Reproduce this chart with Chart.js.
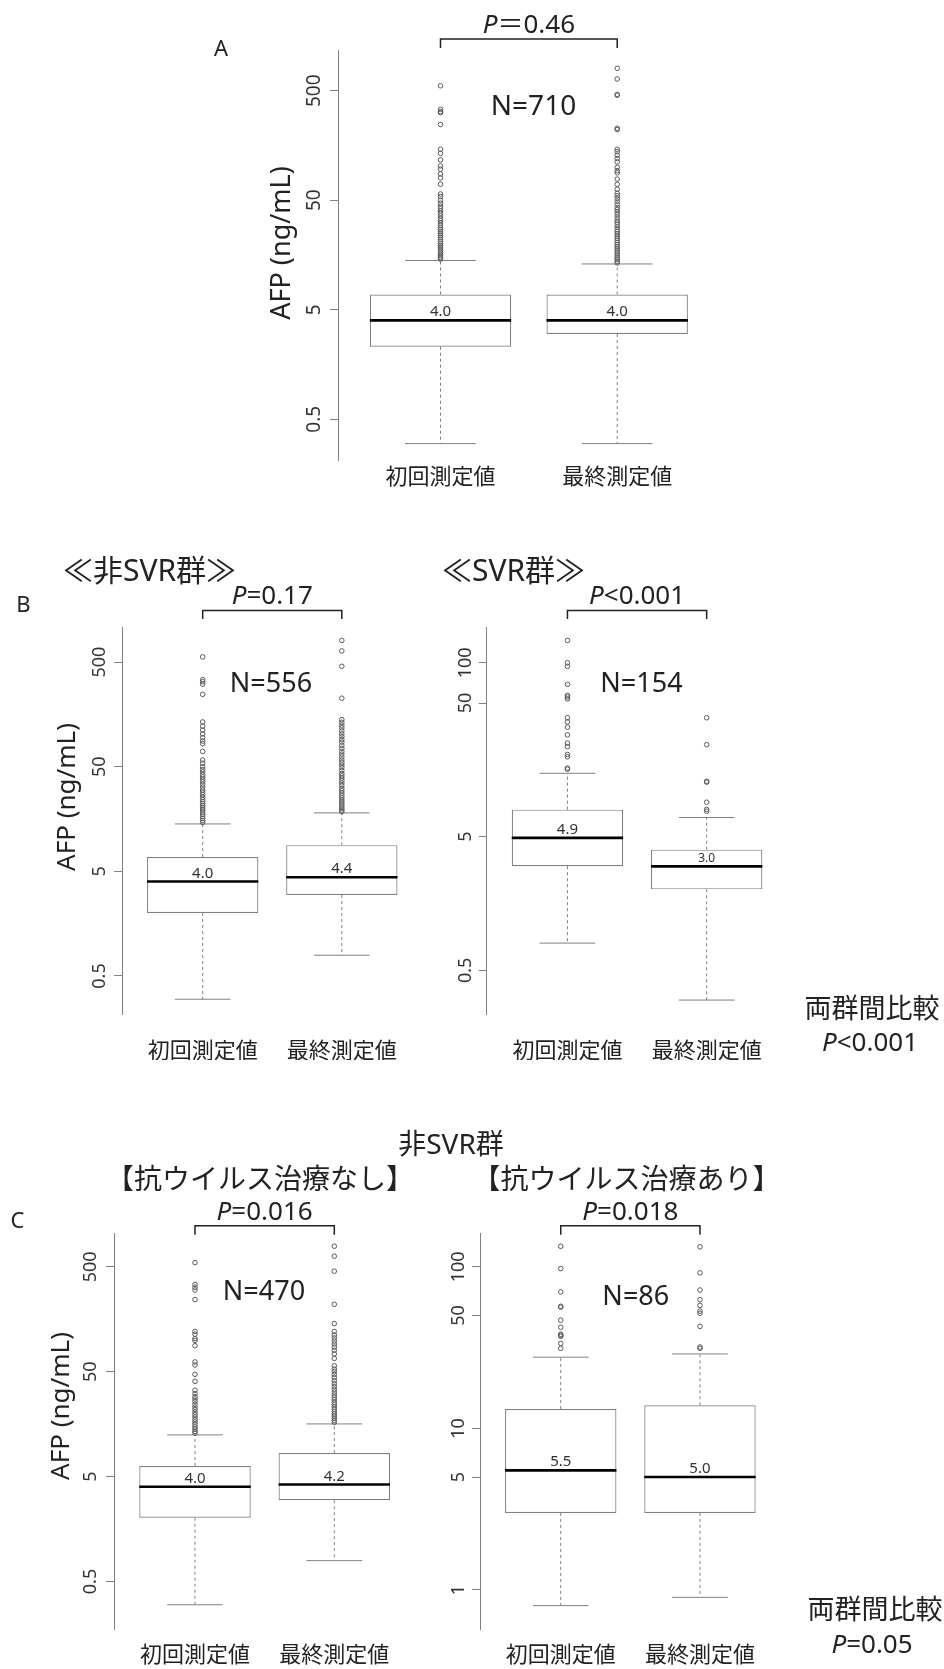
<!DOCTYPE html>
<html lang="ja">
<head>
<meta charset="utf-8">
<title>AFP box plots</title>
<script src="https://cdn.jsdelivr.net/npm/chart.js@4.4.0/dist/chart.umd.min.js"></script>
<style>
  body { margin: 0; background: #fff; }
  #page { position: relative; width: 944px; height: 1669px; }
  .panel { position: absolute; }
  .head { position: absolute; font-family: 'Noto Sans', 'Noto Sans CJK JP', sans-serif; color: #222;
          white-space: nowrap; transform: translate(-50%, -50%); line-height: 1; }
</style>
</head>
<body>
<div id="page">
  <div class="panel" id="pA" style="left:0;top:0;width:944px;height:520px"><canvas></canvas></div>
  <div class="panel" id="pB1" style="left:0;top:520px;width:430px;height:540px"><canvas></canvas></div>
  <div class="panel" id="pB2" style="left:430px;top:520px;width:514px;height:540px"><canvas></canvas></div>
  <div class="panel" id="pC1" style="left:0;top:1100px;width:430px;height:569px"><canvas></canvas></div>
  <div class="panel" id="pC2" style="left:430px;top:1100px;width:514px;height:569px"><canvas></canvas></div>
  <div class="head" style="left:451px;top:1143px;font-size:28px">非SVR群</div>
</div>
<script>
const FONT = "'Noto Sans', 'Noto Sans CJK JP', sans-serif"

const categories = ['初回測定値', '最終測定値']

// A: all patients (N=710)
const aQ1 = [2.3, 3.0]
const aMedian = [4.0, 4.0]
const aQ3 = [6.9, 6.9]
const aLow = [0.3, 0.3]
const aHigh = [14.1, 13.1]
const aMedianText = ['4.0', '4.0']
const aTicks = [0.5, 5, 50, 500]
const aOutFirst = [555, 338, 322, 316, 246, 146, 134, 117, 103, 96, 87, 80, 70, 57, 54, 50, 47, 44, 42, 40, 38, 36, 34, 32.5, 31, 29.5, 28, 27, 26, 25, 24, 23, 22, 21, 20.2, 19.4, 18.7, 18, 17.3, 16.7, 16.1, 15.5, 15, 14.5]
const aOutLast = [801, 640, 462, 455, 227, 221, 146, 139, 129, 120, 112, 100, 93, 89, 78, 70, 63, 58, 55, 52, 49, 46, 43, 41, 39, 37, 35, 33, 31.5, 30, 28.5, 27, 25.8, 24.6, 23.5, 22.5, 21.5, 20.5, 19.6, 18.8, 18, 17.2, 16.5, 15.8, 15.1, 14.5, 13.9, 13.4]

// B left: non-SVR (N=556)
const b1Q1 = [2.0, 2.97]
const b1Median = [4.0, 4.4]
const b1Q3 = [6.85, 8.9]
const b1Low = [0.3, 0.79]
const b1High = [14.2, 18.1]
const b1MedianText = ['4.0', '4.4']
const b1Ticks = [0.5, 5, 50, 500]
const b1OutFirst = [561, 340, 325, 308, 246, 134, 122, 112, 103, 95, 88, 83, 70, 58, 54, 50, 47, 44.6, 42, 40, 38, 36, 34, 32, 30, 28.5, 27, 25.5, 24.3, 23.2, 22.2, 21.2, 20.2, 19.3, 18.4, 17.6, 16.8, 16, 15.3, 14.7]
const b1OutLast = [806, 640, 456, 226, 141, 133, 125, 118, 110, 103, 97, 91, 86, 80, 75, 70, 66, 62, 58, 55, 52, 49, 46, 43, 41, 39, 37, 35, 33, 31, 29.5, 28, 26.5, 25.2, 24, 23, 22, 21, 20.1, 19.3, 18.6]

// B right: SVR (N=154)
const b2Q1 = [3.01, 2.02]
const b2Median = [4.9, 3.0]
const b2Q3 = [7.97, 4.0]
const b2Low = [0.8, 0.3]
const b2High = [14.9, 6.96]
const b2MedianText = ['4.9', '3.0']
const b2Ticks = [0.5, 5, 50, 100]
const b2OutFirst = [147, 100, 94, 69, 57, 55.5, 53.7, 38.8, 36.1, 33, 28.9, 25.1, 23.6, 20.6, 19.8, 16.3, 16.0]
const b2OutLast = [38.8, 24.4, 13.0, 12.8, 9.05, 8.0, 7.75]

// C left: non-SVR without antiviral therapy (N=470)
const c1Q1 = [2.03, 2.98]
const c1Median = [4.0, 4.2]
const c1Q3 = [6.3, 8.4]
const c1Low = [0.3, 0.79]
const c1High = [12.5, 15.9]
const c1MedianText = ['4.0', '4.2']
const c1Ticks = [0.5, 5, 50, 500]
const c1OutFirst = [549, 340, 320, 301, 244, 121, 114, 103.5, 99.4, 88.5, 62, 58, 47.3, 40.5, 33.3, 31, 29, 27.5, 26, 24.5, 23, 21.8, 20.6, 19.5, 18.5, 17.5, 16.6, 15.7, 14.9, 14.2, 13.5, 13]
const c1OutLast = [787, 632, 455, 220, 144, 121, 112, 105, 98, 92, 86, 80, 74, 67, 57, 53, 50, 47, 44, 41, 38.5, 36, 34, 32, 30, 28.5, 27, 25.5, 24.2, 23, 21.9, 20.8, 19.8, 18.9, 18, 17.2, 16.5]

// C right: non-SVR with antiviral therapy (N=86)
const c2Q1 = [3.0, 3.0]
const c2Median = [5.5, 5.0]
const c2Q3 = [13.2, 13.9]
const c2Low = [0.8, 0.9]
const c2High = [27.6, 28.9]
const c2MedianText = ['5.5', '5.0']
const c2Ticks = [1, 5, 10, 50, 100]
const c2OutFirst = [134, 97.6, 70, 57, 56.3, 46.8, 42.3, 38.3, 37.7, 37.2, 33.6, 31.3]
const c2OutLast = [133, 91.8, 71.9, 62.6, 57.7, 53.2, 51.6, 42.8, 31.9, 31.3]

Chart.defaults.font.family = FONT
Chart.defaults.animation = false

function drawRich(ctx, parts, cx, cy, size, baseline) {
  const fonts = parts.map(pt => (pt.italic ? 'italic ' : '') + size + 'px ' + FONT)
  let total = 0
  const widths = parts.map((pt, i) => {
    ctx.font = fonts[i]
    const w = ctx.measureText(pt.t).width
    total += w
    return w
  })
  let x = cx - total / 2
  ctx.textAlign = 'left'
  ctx.textBaseline = baseline || 'alphabetic'
  parts.forEach((pt, i) => {
    ctx.font = fonts[i]
    ctx.fillText(pt.t, x, cy)
    x += widths[i]
  })
}

function line(ctx, x1, y1, x2, y2) {
  ctx.beginPath()
  ctx.moveTo(x1, y1)
  ctx.lineTo(x2, y2)
  ctx.stroke()
}

function makePanel(p) {
  const [L, T, W, H] = p.rect
  const canvas = document.querySelector('#' + p.id + ' canvas')

  const decor = {
    id: 'decor',
    beforeDatasetsDraw(chart) {
      const ctx = chart.ctx, x = chart.scales.x, y = chart.scales.y
      const half = (x.getPixelForValue(2) - x.getPixelForValue(1)) * 0.8 / 2
      ctx.save()
      ctx.strokeStyle = '#808080'
      ctx.lineWidth = 1
      p.median.forEach((m, i) => {
        const cx = x.getPixelForValue(i + 1)
        const yHi = y.getPixelForValue(p.high[i]), yLo = y.getPixelForValue(p.low[i])
        ctx.setLineDash([3, 3])
        line(ctx, cx, y.getPixelForValue(p.q3[i]), cx, yHi)
        line(ctx, cx, y.getPixelForValue(p.q1[i]), cx, yLo)
        ctx.setLineDash([])
        line(ctx, cx - half / 2, yHi, cx + half / 2, yHi)
        line(ctx, cx - half / 2, yLo, cx + half / 2, yLo)
      })
      ctx.restore()
    },
    afterDatasetsDraw(chart) {
      const ctx = chart.ctx, x = chart.scales.x, y = chart.scales.y
      const half = (x.getPixelForValue(2) - x.getPixelForValue(1)) * 0.8 / 2
      ctx.save()
      p.median.forEach((m, i) => {
        const cx = x.getPixelForValue(i + 1), ym = y.getPixelForValue(m)
        ctx.strokeStyle = '#000'
        ctx.lineWidth = 2.6
        line(ctx, cx - half, ym, cx + half, ym)
        ctx.fillStyle = '#333'
        drawRich(ctx, [{ t: p.medianText[i] }], cx, ym - 4, p.medianSize[i], 'alphabetic')
      })
      ctx.restore()
    },
    afterDraw(chart) {
      const ctx = chart.ctx, x = chart.scales.x, y = chart.scales.y
      const area = chart.chartArea
      ctx.save()
      // rotated y tick labels
      ctx.fillStyle = '#333'
      ctx.font = p.tickSize + 'px ' + FONT
      ctx.textAlign = 'center'
      ctx.textBaseline = 'middle'
      p.ticks.forEach(v => {
        ctx.save()
        ctx.translate(area.left - p.tickOffset, y.getPixelForValue(v))
        ctx.rotate(-Math.PI / 2)
        ctx.fillText(String(v), 0, 0)
        ctx.restore()
      })
      // y title
      if (p.yTitle) {
        ctx.fillStyle = '#222'
        ctx.font = p.yTitle.size + 'px ' + FONT
        ctx.save()
        ctx.translate(p.yTitle.x - L, p.yTitle.y - T)
        ctx.rotate(-Math.PI / 2)
        ctx.fillText('AFP (ng/mL)', 0, 0)
        ctx.restore()
      }
      // bracket with P value
      const x1 = x.getPixelForValue(1), x2 = x.getPixelForValue(2), by = p.bracketY - T
      ctx.strokeStyle = '#222'
      ctx.lineWidth = 1.5
      ctx.beginPath()
      ctx.moveTo(x1, by + p.bracketLeg)
      ctx.lineTo(x1, by)
      ctx.lineTo(x2, by)
      ctx.lineTo(x2, by + p.bracketLeg)
      ctx.stroke()
      ctx.fillStyle = '#222'
      drawRich(ctx, p.pText, (x1 + x2) / 2, p.pBaseline - T, 26, 'alphabetic')
      drawRich(ctx, [{ t: p.nText }], p.nX - L, p.nBaseline - T, p.nSize, 'alphabetic')
      p.extra.forEach(e => drawRich(ctx, e.parts, e.x - L, e.y - T, e.size, e.baseline))
      ctx.restore()
    }
  }

  const outliers = p.outFirst.map(v => ({ x: 1, y: v })).concat(p.outLast.map(v => ({ x: 2, y: v })))

  return new Chart(canvas, {
    type: 'bar',
    data: {
      datasets: [
        {
          type: 'bar',
          data: p.q1.map((q, i) => ({ x: i + 1, y: [q, p.q3[i]] })),
          backgroundColor: '#fff',
          borderColor: '#808080',
          borderWidth: 1.2,
          borderSkipped: false,
          barPercentage: 1,
          categoryPercentage: 0.8
        },
        {
          type: 'line',
          data: outliers,
          showLine: false,
          pointRadius: 2.3,
          pointBorderWidth: 1,
          pointBorderColor: '#5a5a5a',
          pointBackgroundColor: 'rgba(0,0,0,0)'
        }
      ]
    },
    options: {
      responsive: true,
      maintainAspectRatio: false,
      layout: {
        padding: { left: 0, top: p.area.top - T, right: L + W - p.area.right, bottom: 0 }
      },
      plugins: { legend: { display: false }, tooltip: { enabled: false } },
      scales: {
        x: {
          type: 'linear',
          min: 0.42,
          max: 2.58,
          offset: false,
          afterBuildTicks: s => { s.ticks = [{ value: 1 }, { value: 2 }] },
          afterFit: s => { s.height = T + H - p.area.bottom },
          ticks: {
            callback: v => categories[v - 1],
            font: { size: 22 },
            color: '#222',
            padding: p.labelPad,
            maxRotation: 0,
            autoSkip: false
          },
          grid: { display: false, drawTicks: false, offset: false },
          border: { display: false }
        },
        y: {
          type: 'logarithmic',
          min: p.yMin,
          max: p.yMax,
          afterBuildTicks: s => { s.ticks = p.ticks.map(v => ({ value: v })) },
          afterFit: s => { s.width = p.area.left - L },
          ticks: { display: false },
          grid: { drawOnChartArea: false, drawTicks: true, tickLength: 8, color: '#808080' },
          border: { display: true, color: '#808080', width: 1 }
        }
      }
    },
    plugins: [decor]
  })
}

makePanel({
  id: 'pA', rect: [0, 0, 944, 520],
  area: { left: 338, top: 50, right: 719.7, bottom: 460 },
  yMin: 0.2125, yMax: 1177, ticks: aTicks, tickSize: 19, tickOffset: 23,
  q1: aQ1, median: aMedian, q3: aQ3, low: aLow, high: aHigh,
  medianText: aMedianText, medianSize: [15, 15],
  outFirst: aOutFirst, outLast: aOutLast,
  yTitle: { x: 282, y: 243, size: 27 }, labelPad: 5,
  bracketY: 39, bracketLeg: 9,
  pText: [{ t: 'P', italic: true }, { t: '＝0.46' }], pBaseline: 33,
  nText: 'N=710', nX: 533.5, nBaseline: 115, nSize: 28,
  extra: [{ parts: [{ t: 'A' }], x: 221, y: 56, size: 22 }]
})

makePanel({
  id: 'pB1', rect: [0, 520, 430, 540],
  area: { left: 122, top: 627, right: 422.5, bottom: 1014.6 },
  yMin: 0.2138, yMax: 1083, ticks: b1Ticks, tickSize: 18, tickOffset: 22,
  q1: b1Q1, median: b1Median, q3: b1Q3, low: b1Low, high: b1High,
  medianText: b1MedianText, medianSize: [15, 15],
  outFirst: b1OutFirst, outLast: b1OutLast,
  yTitle: { x: 68, y: 797, size: 26 }, labelPad: 24,
  bracketY: 610.5, bracketLeg: 8.4,
  pText: [{ t: 'P', italic: true }, { t: '=0.17' }], pBaseline: 604.2,
  nText: 'N=556', nX: 271, nBaseline: 691.5, nSize: 27,
  extra: [
    { parts: [{ t: 'B' }], x: 23.5, y: 611.5, size: 22 },
    { parts: [{ t: '≪非SVR群≫' }], x: 149.5, y: 572, size: 30, baseline: 'middle' }
  ]
})

makePanel({
  id: 'pB2', rect: [430, 520, 514, 540],
  area: { left: 486.7, top: 627, right: 787.4, bottom: 1014.6 },
  yMin: 0.2335, yMax: 185.2, ticks: b2Ticks, tickSize: 18, tickOffset: 21,
  q1: b2Q1, median: b2Median, q3: b2Q3, low: b2Low, high: b2High,
  medianText: b2MedianText, medianSize: [15, 12],
  outFirst: b2OutFirst, outLast: b2OutLast,
  yTitle: null, labelPad: 24,
  bracketY: 610.5, bracketLeg: 8.4,
  pText: [{ t: 'P', italic: true }, { t: '<0.001' }], pBaseline: 604.2,
  nText: 'N=154', nX: 641.5, nBaseline: 691.5, nSize: 27,
  extra: [
    { parts: [{ t: '≪SVR群≫' }], x: 513.5, y: 572, size: 30, baseline: 'middle' },
    { parts: [{ t: '両群間比較' }], x: 872, y: 1010.4, size: 27, baseline: 'middle' },
    { parts: [{ t: 'P', italic: true }, { t: '<0.001' }], x: 870, y: 1051.4, size: 26 }
  ]
})

makePanel({
  id: 'pC1', rect: [0, 1100, 430, 569],
  area: { left: 114.2, top: 1233, right: 415.1, bottom: 1629.3 },
  yMin: 0.175, yMax: 1052, ticks: c1Ticks, tickSize: 18, tickOffset: 23,
  q1: c1Q1, median: c1Median, q3: c1Q3, low: c1Low, high: c1High,
  medianText: c1MedianText, medianSize: [15, 15],
  outFirst: c1OutFirst, outLast: c1OutLast,
  yTitle: { x: 62, y: 1406, size: 26 }, labelPad: 13,
  bracketY: 1225.8, bracketLeg: 9,
  pText: [{ t: 'P', italic: true }, { t: '=0.016' }], pBaseline: 1220.2,
  nText: 'N=470', nX: 264, nBaseline: 1300.4, nSize: 27,
  extra: [
    { parts: [{ t: 'C' }], x: 17.5, y: 1227.6, size: 22 },
    { parts: [{ t: '【抗ウイルス治療なし】' }], x: 260, y: 1180.6, size: 28, baseline: 'middle' }
  ]
})

makePanel({
  id: 'pC2', rect: [430, 1100, 514, 569],
  area: { left: 480, top: 1233, right: 780.7, bottom: 1629.3 },
  yMin: 0.571, yMax: 162, ticks: c2Ticks, tickSize: 18, tickOffset: 21,
  q1: c2Q1, median: c2Median, q3: c2Q3, low: c2Low, high: c2High,
  medianText: c2MedianText, medianSize: [15, 15],
  outFirst: c2OutFirst, outLast: c2OutLast,
  yTitle: null, labelPad: 13,
  bracketY: 1225.8, bracketLeg: 9,
  pText: [{ t: 'P', italic: true }, { t: '=0.018' }], pBaseline: 1220.2,
  nText: 'N=86', nX: 635.8, nBaseline: 1304.6, nSize: 27,
  extra: [
    { parts: [{ t: '【抗ウイルス治療あり】' }], x: 626.5, y: 1180.6, size: 28, baseline: 'middle' },
    { parts: [{ t: '両群間比較' }], x: 875, y: 1611.3, size: 27, baseline: 'middle' },
    { parts: [{ t: 'P', italic: true }, { t: '=0.05' }], x: 872, y: 1653.3, size: 26 }
  ]
})
</script>
</body>
</html>
